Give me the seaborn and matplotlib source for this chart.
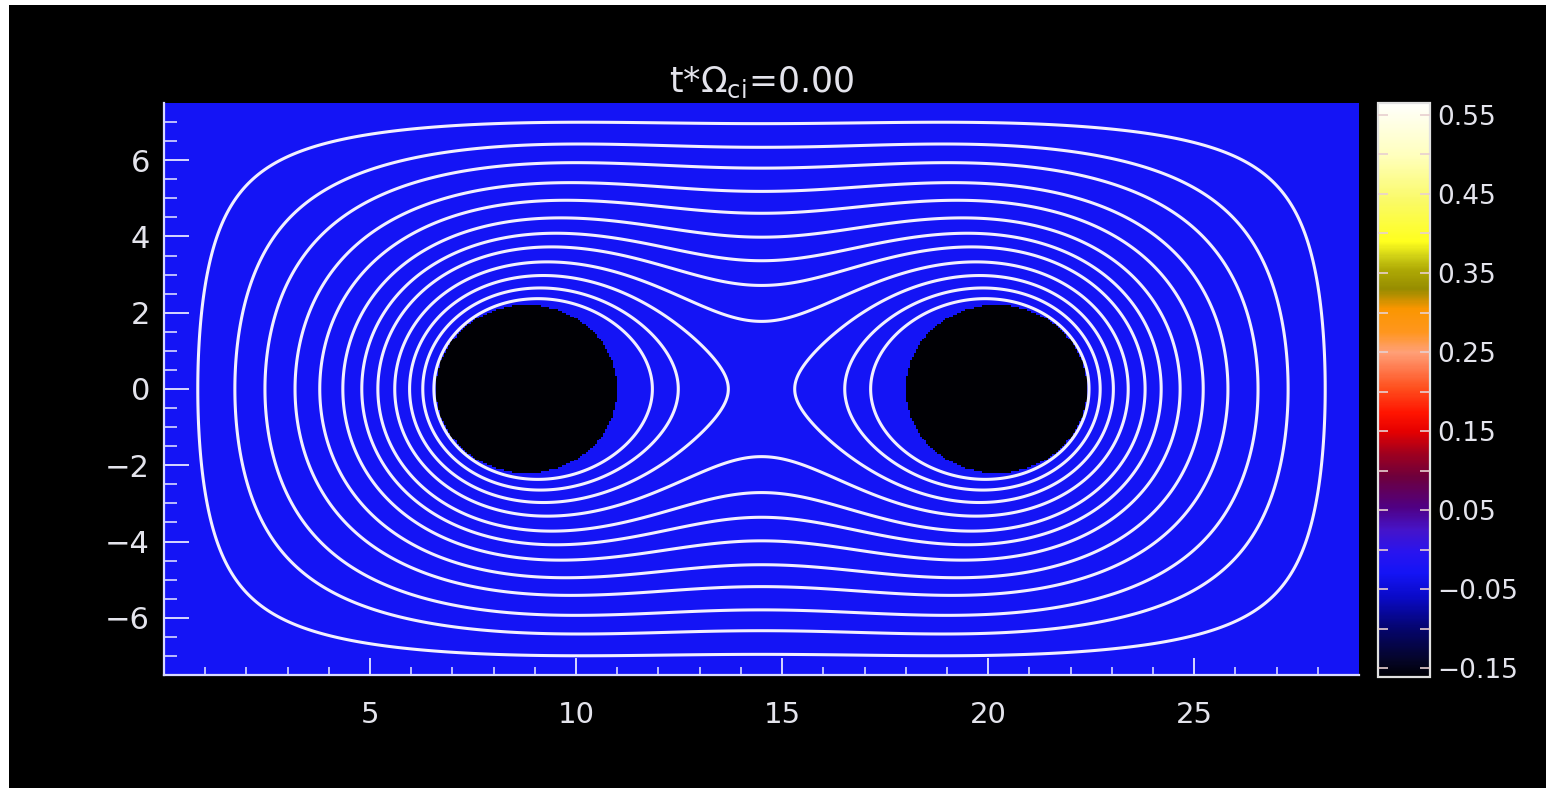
import numpy as np
import matplotlib
matplotlib.use("Agg")
import matplotlib.pyplot as plt
from matplotlib.colors import LinearSegmentedColormap
from matplotlib.patches import Rectangle
import seaborn as sns

# ---- simulation box and flux-rope setup (units of ion inertial length) ----
box_x = [0.0, 29.0]
box_y = [-7.5, 7.5]
rope_x = [8.8, 20.2]
rope_y = [0.0, 0.0]
rope_radius = [2.2, 2.2]
rope_current = [-0.161, -0.161]
background_current = -0.03

# midplane (y = 0) crossings of the drawn field lines, left of the first rope
fieldline_cross_x = [0.82, 1.72, 2.45, 3.18, 3.78, 4.34, 4.80, 5.19, 5.60, 5.96, 6.28, 6.55]

# axis ticks
x_major = [5, 10, 15, 20, 25]
x_major_labels = ["5", "10", "15", "20", "25"]
y_major = [6, 4, 2, 0, -2, -4, -6]
y_major_labels = ["6", "4", "2", "0", "\u22122", "\u22124", "\u22126"]
cbar_ticks = [0.55, 0.45, 0.35, 0.25, 0.15, 0.05, -0.05, -0.15]
cbar_labels = ["0.55", "0.45", "0.35", "0.25", "0.15", "0.05", "\u22120.05", "\u22120.15"]
cbar_range = [-0.161, 0.565]

# colour table: value -> RGB
ct_values = [-0.161, -0.14, -0.10, -0.06, -0.03, -0.004, 0.025, 0.054, 0.092,
             0.122, 0.15, 0.173, 0.205, 0.25, 0.275, 0.305, 0.33, 0.355, 0.37,
             0.39, 0.44, 0.50, 0.565]
ct_colors = [(0, 0, 4), (5, 5, 40), (5, 5, 110), (10, 10, 200), (20, 20, 245),
             (40, 20, 240), (70, 20, 200), (80, 0, 130), (110, 0, 60),
             (160, 0, 30), (230, 0, 0), (255, 20, 0), (255, 80, 30),
             (255, 160, 120), (255, 150, 30), (250, 150, 0), (150, 140, 0),
             (175, 170, 5), (205, 205, 20), (255, 255, 30), (250, 250, 100),
             (255, 255, 190), (255, 255, 252)]

sns.set_style("dark")
plt.rcParams["font.family"] = ["DejaVu Sans"]

fg = "#e4e4ec"
axis_col = "#d8d8ff"

# ---- fields on the grid ----
dx = 0.05
Lx = box_x[1] - box_x[0]
Ly = box_y[1] - box_y[0]
ncx = int(round(Lx / dx))
ncy = int(round(Ly / dx))

# cell-centred current density (rows from top to bottom)
xc = box_x[0] + (np.arange(ncx) + 0.5) * dx
yc = box_y[1] - (np.arange(ncy) + 0.5) * dx
XC, YC = np.meshgrid(xc, yc)
jz = np.full(XC.shape, background_current)
for cx, cy, r, j in zip(rope_x, rope_y, rope_radius, rope_current):
    jz[(XC - cx) ** 2 + (YC - cy) ** 2 <= r ** 2] = j

# flux function: -lap(psi) = rope source, psi = 0 on the conducting walls
nx, ny = ncx - 1, ncy - 1
xi = box_x[0] + np.arange(1, nx + 1) * dx
yj = box_y[0] + np.arange(1, ny + 1) * dx
XI, YJ = np.meshgrid(xi, yj, indexing="ij")
src = np.zeros_like(XI)
for cx, cy, r in zip(rope_x, rope_y, rope_radius):
    src[(XI - cx) ** 2 + (YJ - cy) ** 2 <= r ** 2] = 1.0
mx = np.arange(1, nx + 1)
my = np.arange(1, ny + 1)
Sx = np.sin(np.pi * np.outer(mx, mx) / (nx + 1))
Sy = np.sin(np.pi * np.outer(my, my) / (ny + 1))
lam_x = (2 - 2 * np.cos(np.pi * mx / (nx + 1))) / dx ** 2
lam_y = (2 - 2 * np.cos(np.pi * my / (ny + 1))) / dx ** 2
src_hat = Sx @ src @ Sy.T
psi_hat = src_hat / (lam_x[:, None] + lam_y[None, :])
psi = (2.0 / (nx + 1)) * (2.0 / (ny + 1)) * (Sx.T @ psi_hat @ Sy)

mid = np.argmin(np.abs(yj))
levels = np.sort(np.interp(fieldline_cross_x, xi, psi[:, mid]))

# ---- figure ----
W, H = 1553, 794
fig = plt.figure(figsize=(W / 100, H / 100), dpi=100)
fig.patch.set_facecolor("white")
# black frame of the movie still
fig.add_artist(Rectangle((9 / W, 1 - 788 / H), (1546 - 9) / W, (788 - 5) / H,
                         transform=fig.transFigure, facecolor="black",
                         edgecolor="none", zorder=0))

ax = fig.add_axes([164 / W, 1 - 675 / H, (1359 - 164) / W, (675 - 103) / H])
cax = fig.add_axes([1378 / W, 1 - 677 / H, 52 / W, 574 / H])

span = cbar_range[1] - cbar_range[0]
cmap = LinearSegmentedColormap.from_list(
    "idl_like",
    [((v - cbar_range[0]) / span, tuple(c / 255 for c in col))
     for v, col in zip(ct_values, ct_colors)],
    N=512,
)

sns.heatmap(jz, ax=ax, cmap=cmap, vmin=cbar_range[0], vmax=cbar_range[1],
            cbar_ax=cax, xticklabels=False, yticklabels=False, rasterized=True)

# field lines in heatmap index coordinates
ax.contour((xi - box_x[0]) / dx, (box_y[1] - yj) / dx, psi.T, levels=levels,
           colors="#f2f0ff", linewidths=2.2)

def to_ix(v):
    return (np.asarray(v, float) - box_x[0]) / dx

def to_iy(v):
    return (box_y[1] - np.asarray(v, float)) / dx

ax.set_xticks(to_ix(x_major))
ax.set_xticklabels(x_major_labels)
ax.set_xticks(to_ix([v for v in range(1, 29) if v not in x_major]), minor=True)
ax.set_yticks(to_iy(y_major))
ax.set_yticklabels(y_major_labels, rotation=0)
y_minor = [v / 2 for v in range(-14, 15) if v % 4 != 0]
ax.set_yticks(to_iy(y_minor), minor=True)

ax.set_axisbelow(False)
ax.tick_params(axis="x", which="major", direction="in", length=12, width=1.4,
               color=axis_col, labelsize=21, labelcolor=fg, pad=19, bottom=True)
ax.tick_params(axis="x", which="minor", direction="in", length=5.5, width=1.2,
               color=axis_col, bottom=True)
ax.tick_params(axis="y", which="major", direction="in", length=18, width=1.4,
               color=axis_col, labelsize=22, labelcolor=fg, pad=10, left=True)
ax.tick_params(axis="y", which="minor", direction="in", length=9.5, width=1.2,
               color=axis_col, left=True)
for side in ("left", "bottom"):
    ax.spines[side].set_visible(True)
    ax.spines[side].set_color(axis_col)
    ax.spines[side].set_linewidth(1.6)
for side in ("top", "right"):
    ax.spines[side].set_visible(False)

ax.set_title(r"t*$\Omega_{\mathrm{ci}}$=0.00", color=fg, fontsize=25, pad=8)

# colour bar
cbar = ax.collections[0].colorbar
cbar.set_ticks(cbar_ticks)
cbar.set_ticklabels(cbar_labels)
cbar.ax.set_yticks([v + 0.05 for v in cbar_ticks[1:]], minor=True)
cbar.outline.set_edgecolor("#e0e0e0")
cbar.outline.set_linewidth(1.6)
cax.set_axisbelow(False)
cax.tick_params(which="both", direction="in", left=True, right=True,
                length=7, width=1.2, color="#e8d0d0")
cax.tick_params(which="major", labelsize=19, labelcolor=fg, pad=5)

fig.savefig("out.png", dpi=100, facecolor="white")
